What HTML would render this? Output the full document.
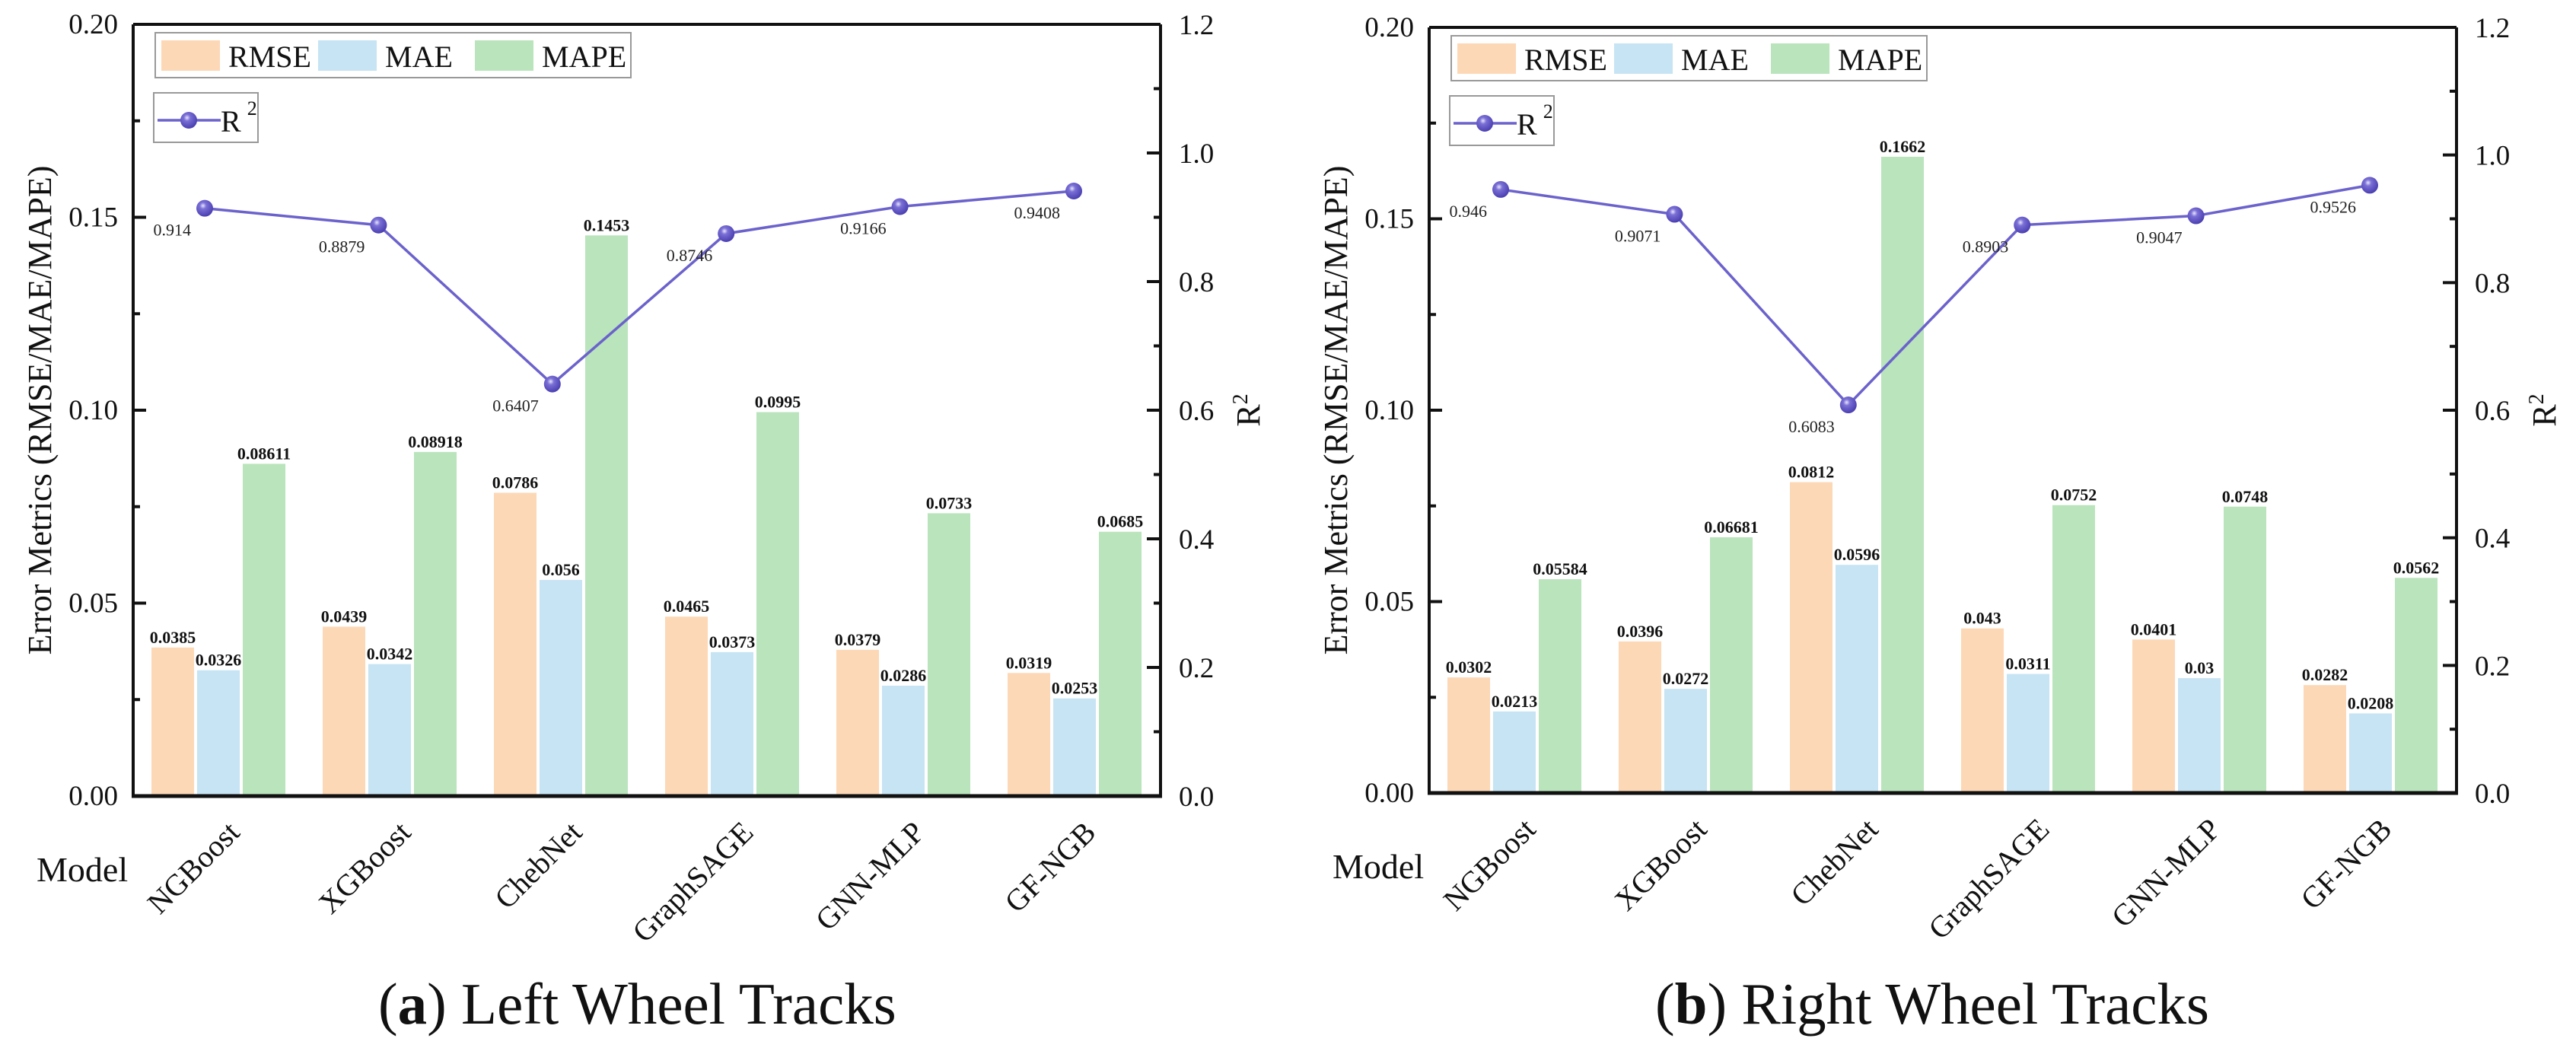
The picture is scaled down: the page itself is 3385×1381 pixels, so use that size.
<!DOCTYPE html>
<html><head><meta charset="utf-8"><style>
html,body{margin:0;padding:0;background:#fff;}
svg{display:block;font-family:"Liberation Serif",serif;}
</style></head><body>
<svg id="fig" width="3385" height="1381" viewBox="0 0 3385 1381" xmlns="http://www.w3.org/2000/svg">
<defs>
<radialGradient id="ball" cx="0.4" cy="0.35" r="0.65">
<stop offset="0" stop-color="#e8e6fa"/><stop offset="0.3" stop-color="#7b70d6"/><stop offset="1" stop-color="#4a3fb0"/>
</radialGradient>
</defs>
</svg>
<script>
const models = ["NGBoost","XGBoost","ChebNet","GraphSAGE","GNN-MLP","GF-NGB"];
const leftRMSE = [0.0385,0.0439,0.0786,0.0465,0.0379,0.0319];
const leftMAE = [0.0326,0.0342,0.056,0.0373,0.0286,0.0253];
const leftMAPE = [0.08611,0.08918,0.1453,0.0995,0.0733,0.0685];
const leftR2 = [0.914,0.8879,0.6407,0.8746,0.9166,0.9408];
const leftMAPELabels = ["0.08611","0.08918","0.1453","0.0995","0.0733","0.0685"];
const rightRMSE = [0.0302,0.0396,0.0812,0.043,0.0401,0.0282];
const rightMAE = [0.0213,0.0272,0.0596,0.0311,0.03,0.0208];
const rightMAPE = [0.05584,0.06681,0.1662,0.0752,0.0748,0.0562];
const rightR2 = [0.946,0.9071,0.6083,0.8903,0.9047,0.9526];
const rightMAPELabels = ["0.05584","0.06681","0.1662","0.0752","0.0748","0.0562"];
const leftTicks = ["0.00","0.05","0.10","0.15","0.20"];
const rightTicks = ["0.0","0.2","0.4","0.6","0.8","1.0","1.2"];

const NS="http://www.w3.org/2000/svg";
const svg=document.getElementById('fig');
function mk(tag,attrs,parent,text){const e=document.createElementNS(NS,tag);for(const k in attrs)e.setAttribute(k,attrs[k]);if(text!==undefined)e.textContent=text;(parent||svg).appendChild(e);return e;}

function chart(cfg){
  const g=mk('g',{});
  
  
  const L=cfg.x0,R=cfg.x0+1350,T=cfg.top,B=cfg.bottom,H=B-T;
  const yE=v=>B-v/0.2*H;
  const yR=v=>B-v/1.2*H;
  const groupW=225,barW=56,gap=4;
  const cols=["#fdd8b6","#c6e4f3","#bae4bc"];
  const series=[cfg.rmse,cfg.mae,cfg.mape];
  const snames=['rmse','mae','mape'];
  for(let i=0;i<models.length;i++){
    const gx=L+groupW*i+24;
    for(let s=0;s<3;s++){
      const v=series[s][i];
      const x=gx+s*(barW+gap);
      const r=mk('rect',{x:x,y:yE(v),width:barW,height:B-yE(v),fill:cols[s]},g);
      
      
      const lbl=s===2?cfg.mapeLabels[i]:String(v);
      const t=mk('text',{x:x+barW/2,y:yE(v)-6,'font-size':22,'font-weight':'bold','text-anchor':'middle',fill:'#111'},g,lbl);
      
      
    }
  }
  mk('line',{x1:L,y1:T,x2:R,y2:T,stroke:'#111','stroke-width':4},g);
  mk('line',{x1:L,y1:T,x2:L,y2:B,stroke:'#111','stroke-width':4},g);
  mk('line',{x1:R,y1:T,x2:R,y2:B,stroke:'#111','stroke-width':4},g);
  mk('line',{x1:L-2,y1:B,x2:R+2,y2:B,stroke:'#111','stroke-width':5},g);
  for(let k=0;k<leftTicks.length;k++){
    const v=k*0.05,y=yE(v);
    mk('line',{x1:L,y1:y,x2:L+17,y2:y,stroke:'#111','stroke-width':4},g);
    if(k<4){const ym=yE(v+0.025);mk('line',{x1:L,y1:ym,x2:L+9,y2:ym,stroke:'#111','stroke-width':4},g);}
    const t=mk('text',{x:L-20,y:y+12,'font-size':37,'text-anchor':'end',fill:'#111'},g,leftTicks[k]);
    
    
  }
  for(let k=0;k<rightTicks.length;k++){
    const v=k*0.2,y=yR(v);
    mk('line',{x1:R,y1:y,x2:R-18,y2:y,stroke:'#111','stroke-width':4},g);
    if(k<6){const ym=yR(v+0.1);mk('line',{x1:R,y1:ym,x2:R-9,y2:ym,stroke:'#111','stroke-width':4},g);}
    const t=mk('text',{x:R+24,y:y+13,'font-size':37,fill:'#111'},g,rightTicks[k]);
    
    
  }
  const yt=mk('text',{x:0,y:0,'font-size':44,'text-anchor':'middle',fill:'#111',transform:`translate(${L-108},${(T+B)/2}) rotate(-90)`},g,'Error Metrics (RMSE/MAE/MAPE)');
  
  
  const rt=mk('text',{x:0,y:0,'font-size':44,'text-anchor':'middle',fill:'#111',transform:`translate(${R+130},${(T+B)/2}) rotate(-90)`},g);
  
  
  mk('tspan',{},rt,'R');mk('tspan',{dy:-16,'font-size':28},rt,'2');
  const mt=mk('text',{x:L-127,y:B+112,'font-size':46,fill:'#111'},g,'Model');
  
  
  for(let i=0;i<models.length;i++){
    const cx=L+groupW*i+112+30;
    const t=mk('text',{x:0,y:0,'font-size':40,'text-anchor':'end',fill:'#111',transform:`translate(${cx},${B+50}) rotate(-45)`},g,models[i]);
    
    
  }
  const px=i=>L+94+228.4*i;
  let d='';
  for(let i=0;i<cfg.r2.length;i++)d+=(i?'L':'M')+px(i)+' '+yR(cfg.r2[i]);
  const ln=mk('path',{d:d,fill:'none',stroke:'#6b62cc','stroke-width':3.5},g);
  
  
  for(let i=0;i<cfg.r2.length;i++){
    const c=mk('circle',{cx:px(i),cy:yR(cfg.r2[i]),r:11,fill:'url(#ball)'},g);
    
    
    const t=mk('text',{x:px(i)-18,y:yR(cfg.r2[i])+36,'font-size':22,'text-anchor':'end',fill:'#222'},g,String(cfg.r2[i]));
    
    
  }
  const lg=mk('g',{},g);
  
  
  const lx=L+29,ly=T+11;
  mk('rect',{x:lx,y:ly,width:625,height:59,fill:'#fff',stroke:'#999','stroke-width':2},lg);
  const ln2=['RMSE','MAE','MAPE'];
  for(let s=0;s<3;s++){
    const sx=lx+8+s*206;
    mk('rect',{x:sx,y:ly+10,width:77,height:40,fill:cols[s]},lg);
    const t=mk('text',{x:sx+88,y:ly+45,'font-size':40,fill:'#111'},lg,ln2[s]);
    
    
  }
  const rg=mk('g',{},g);
  
  
  const rx=L+27,ry=T+90;
  mk('rect',{x:rx,y:ry,width:137,height:65,fill:'#fff',stroke:'#999','stroke-width':2},rg);
  mk('line',{x1:rx+5,y1:ry+36,x2:rx+88,y2:ry+36,stroke:'#6b62cc','stroke-width':3.5},rg);
  mk('circle',{cx:rx+46,cy:ry+36,r:11,fill:'url(#ball)'},rg);
  const rl=mk('text',{x:rx+88,y:ry+51,'font-size':40,fill:'#111'},rg);
  mk('tspan',{},rl,'R');mk('tspan',{dx:8,dy:-22,'font-size':26},rl,'2');
  const cap=mk('text',{x:cfg.capX,y:1345,'font-size':77,fill:'#111'},g);
  
  
  mk('tspan',{},cap,'(');mk('tspan',{'font-weight':'bold'},cap,cfg.letter);mk('tspan',{},cap,') '+cfg.caption);
}
chart({name:'left-chart',x0:175,top:32,bottom:1046,rmse:leftRMSE,mae:leftMAE,mape:leftMAPE,mapeLabels:leftMAPELabels,r2:leftR2,letter:'a',caption:'Left Wheel Tracks',capX:497});
chart({name:'right-chart',x0:1878,top:36,bottom:1042,rmse:rightRMSE,mae:rightMAE,mape:rightMAPE,mapeLabels:rightMAPELabels,r2:rightR2,letter:'b',caption:'Right Wheel Tracks',capX:2175});
</script>
</body></html>
